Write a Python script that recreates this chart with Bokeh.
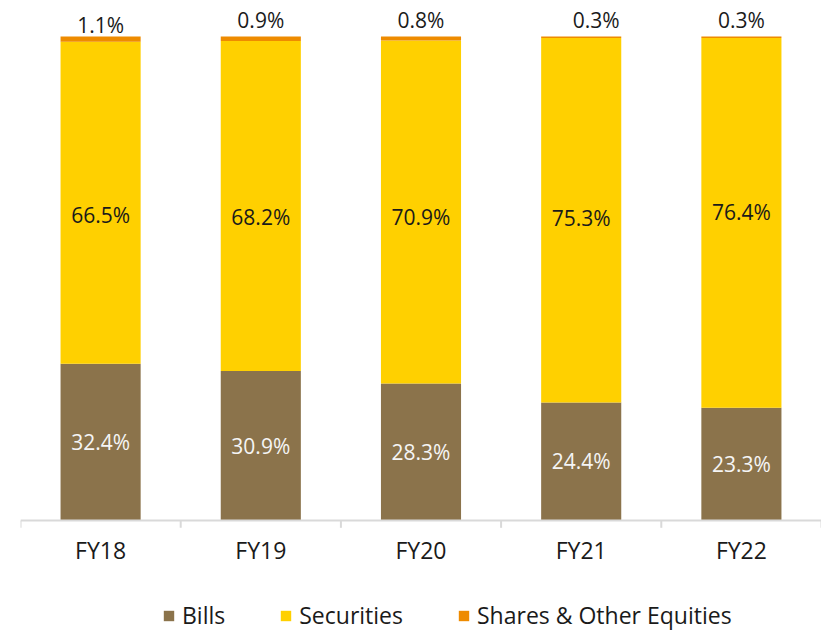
from bokeh.plotting import figure
from bokeh.models import ColumnDataSource, FactorRange, Range1d, Span, Legend, LegendItem
from bokeh.core.properties import value
from bokeh.embed import file_html
from bokeh.resources import INLINE

categories = ["FY18", "FY19", "FY20", "FY21", "FY22"]
bills = [32.4, 30.9, 28.3, 24.4, 23.3]
securities = [66.5, 68.2, 70.9, 75.3, 76.4]
shares = [1.1, 0.9, 0.8, 0.3, 0.3]
series_names = ["Bills", "Securities", "Shares & Other Equities"]

# label placement (layout, not data)
sec_label_y = [63.2, 62.8, 62.8, 62.6, 63.8]
top_label_y = [102.3, 103.4, 103.4, 103.4, 103.4]
top_label_dx = [0, 0, 0, 15, 0]
cat_label_y = -6.1

colors = ["#8B734B", "#FFD000", "#EE8B00"]
FONT = "Open Sans"

src = ColumnDataSource(dict(
    cat=categories,
    bills=bills,
    securities=securities,
    shares=shares,
    bills_mid=[b / 2 for b in bills],
    sec_y=sec_label_y,
    top_y=top_label_y,
    top_dx=top_label_dx,
    lab_y=[cat_label_y] * len(categories),
    bills_txt=[f"{v:.1f}%" for v in bills],
    sec_txt=[f"{v:.1f}%" for v in securities],
    sh_txt=[f"{v:.1f}%" for v in shares],
))

FH = 624
Y_TOP = 106.0
p = figure(
    x_range=FactorRange(*categories, range_padding=0),
    y_range=Range1d(Y_TOP - FH / 4.84, Y_TOP),
    frame_width=801, frame_height=FH,
    output_backend="svg", toolbar_location=None,
    x_axis_location=None, y_axis_location=None,
    min_border_left=20, min_border_right=0, min_border_top=7, min_border_bottom=0,
)
p.outline_line_color = None
p.xgrid.grid_line_color = None
p.ygrid.grid_line_color = None

rs = p.vbar_stack(["bills", "securities", "shares"], x="cat", width=0.5,
                  color=colors, line_color=None, source=src)

# baseline and category-boundary ticks
p.add_layout(Span(location=0, dimension="width", line_color="#d9d9d9", line_width=2))
bounds = list(range(len(categories) + 1))
p.segment(x0=bounds, y0=[0] * len(bounds), x1=bounds, y1=[-1.5] * len(bounds),
          line_color="#d9d9d9", line_width=2)

p.text(x="cat", y="bills_mid", text="bills_txt", source=src,
       text_align="center", text_baseline="middle",
       text_font=value(FONT), text_font_size="21px", text_color="#F5F5F5")
p.text(x="cat", y="sec_y", text="sec_txt", source=src,
       text_align="center", text_baseline="middle",
       text_font=value(FONT), text_font_size="21px", text_color="#1A1A1A")
p.text(x="cat", y="top_y", text="sh_txt", source=src, x_offset="top_dx",
       text_align="center", text_baseline="middle",
       text_font=value(FONT), text_font_size="21px", text_color="#1A1A1A")
# category labels
p.text(x="cat", y="lab_y", text="cat", source=src,
       text_align="center", text_baseline="middle",
       text_font=value(FONT), text_font_size="23px", text_color="#1A1A1A")

legend = Legend(
    items=[LegendItem(label=n, renderers=[r]) for n, r in zip(series_names, rs)],
    orientation="horizontal", location=(142, 0),
    glyph_width=13, glyph_height=13, label_standoff=7, spacing=54,
    label_text_font=FONT, label_text_font_size="23px", label_text_color="#1A1A1A",
    border_line_color=None, background_fill_color=None, padding=0, margin=0,
)
p.add_layout(legend, "center")

open("out.html", "w").write(file_html(p, INLINE))
